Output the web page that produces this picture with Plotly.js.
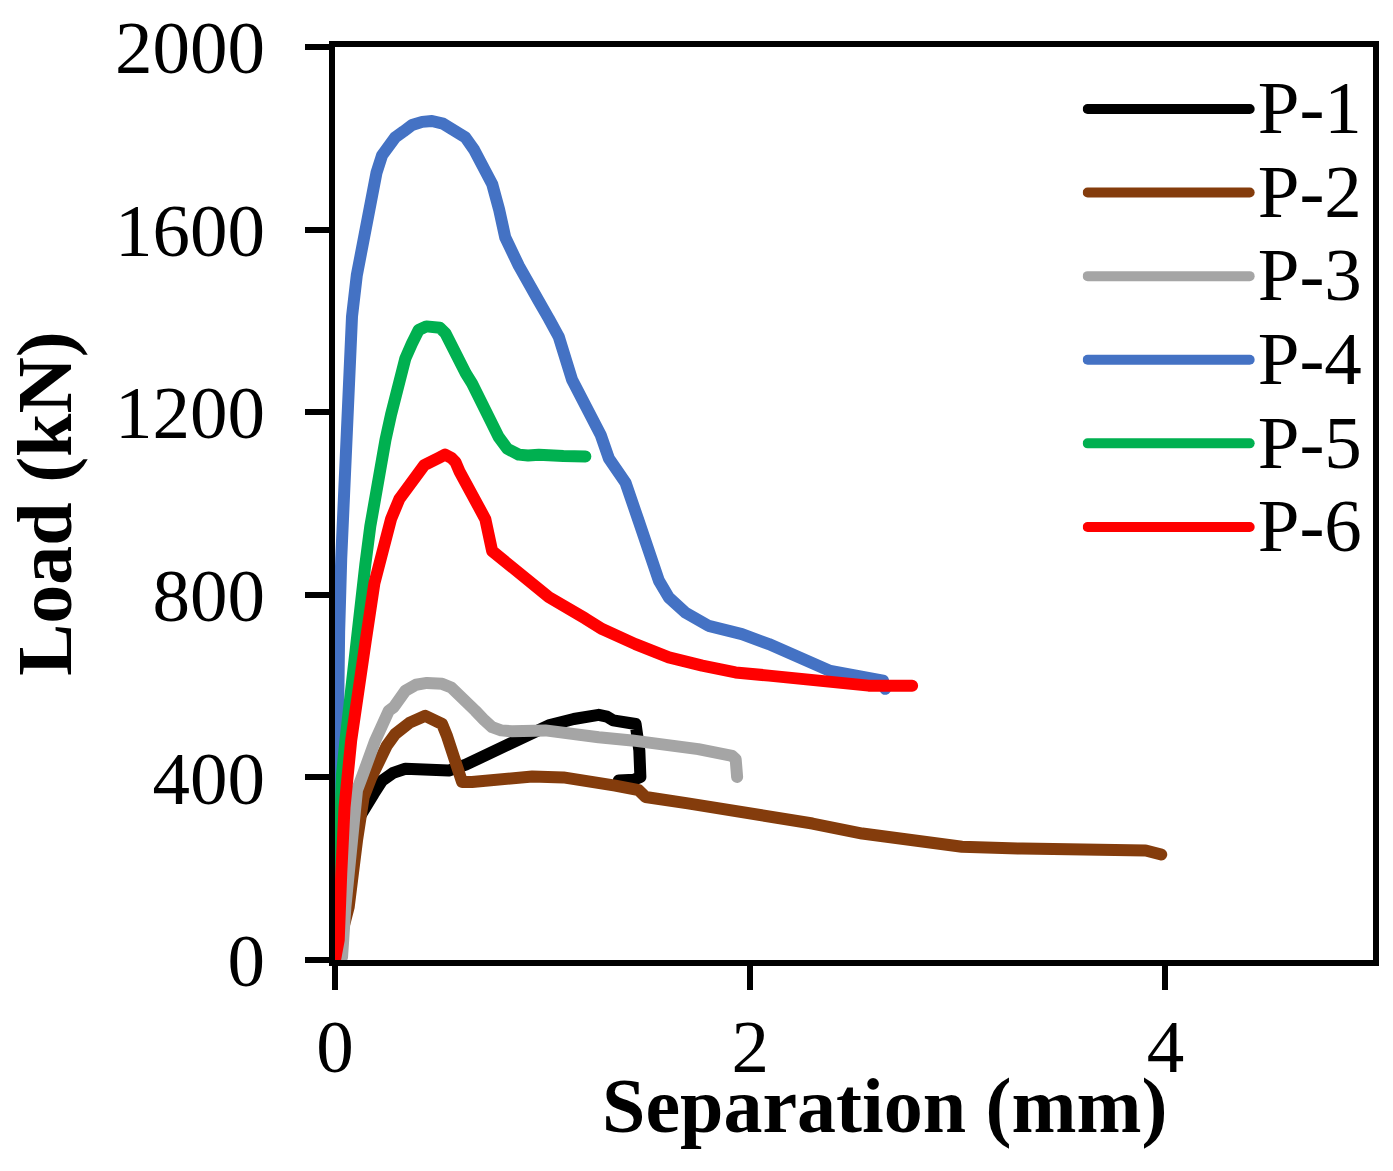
<!DOCTYPE html>
<html>
<head>
<meta charset="utf-8">
<script src="https://cdn.plot.ly/plotly-3.0.1.min.js"></script>
<style>
  body { margin: 0; background: #fff; }
  #myChart { width: 1393px; height: 1171px; }
  /* excel draws its lines with round ends */
  .scatterlayer .js-line, .legendlines path { stroke-linecap: round; stroke-linejoin: round; }
  .legendtext { font-size: 75px !important; }
</style>
</head>
<body>
<div id="myChart"></div>
<script>
// Load - separation curves

const names = ["P-1", "P-2", "P-3", "P-4", "P-5", "P-6"];
const colors = ["#000000", "#843C0C", "#A5A5A5", "#4472C4", "#00B050", "#FF0000"];

const p1_x = [0, 0.02, 0.05, 0.1, 0.146, 0.186, 0.227, 0.28, 0.339, 0.44, 0.548, 0.63, 0.708, 0.79, 0.869, 0.95, 1.03, 1.15, 1.27, 1.31, 1.34, 1.448, 1.463, 1.466, 1.471, 1.44, 1.367];
const p1_y = [0, 110, 220, 300, 339, 364, 393, 410, 419, 415, 415, 428, 444, 463, 481, 498, 514, 528, 537, 533, 525, 517, 490, 459, 401, 395, 393];

const p2_x = [0, 0.03, 0.066, 0.106, 0.138, 0.175, 0.21, 0.25, 0.29, 0.36, 0.435, 0.48, 0.516, 0.54, 0.564, 0.59, 0.612, 0.66, 0.8, 0.95, 1.1, 1.239, 1.35, 1.463, 1.496, 1.7, 1.9, 2.058, 2.3, 2.54, 2.78, 3.02, 3.31, 3.55, 3.76, 3.905, 3.98];
const p2_y = [0, 50, 116, 262, 357, 400, 437, 470, 495, 520, 535, 528, 517, 490, 459, 420, 390, 390, 398, 402, 400, 393, 382, 372, 357, 343, 330, 317, 299, 277, 262, 248, 244, 243, 242, 240, 231];

const p3_x = [0, 0.034, 0.05, 0.074, 0.106, 0.13, 0.17, 0.194, 0.259, 0.283, 0.339, 0.39, 0.443, 0.516, 0.56, 0.596, 0.64, 0.676, 0.72, 0.757, 0.8, 0.853, 1.013, 1.1, 1.27, 1.43, 1.59, 1.75, 1.913, 1.93, 1.937];
const p3_y = [0, 7, 116, 226, 372, 401, 459, 481, 546, 554, 590, 603, 607, 605, 597, 583, 565, 546, 525, 510, 503, 501, 503, 500, 488, 481, 474, 462, 447, 440, 401];

const p4_x = [0, 0.005, 0.012, 0.02, 0.03, 0.04, 0.05, 0.066, 0.082, 0.105, 0.13, 0.155, 0.178, 0.2, 0.227, 0.26, 0.29, 0.33, 0.371, 0.42, 0.467, 0.52, 0.564, 0.6, 0.628, 0.67, 0.708, 0.757, 0.79, 0.82, 0.885, 0.93, 0.982, 1.03, 1.078, 1.142, 1.19, 1.239, 1.28, 1.319, 1.36, 1.4, 1.464, 1.528, 1.56, 1.608, 1.688, 1.8, 1.96, 2.09, 2.25, 2.38, 2.51, 2.64, 2.65];
const p4_y = [0, 300, 550, 720, 880, 1000, 1100, 1270, 1410, 1500, 1567, 1630, 1685, 1725, 1763, 1785, 1802, 1815, 1829, 1836, 1838, 1832, 1821, 1812, 1802, 1775, 1747, 1700, 1645, 1583, 1521, 1480, 1443, 1405, 1365, 1271, 1230, 1193, 1150, 1099, 1070, 1045, 960, 874, 831, 794, 761, 732, 714, 692, 659, 634, 623, 612, 594];

const p5_x = [0, 0.008, 0.018, 0.034, 0.05, 0.066, 0.082, 0.098, 0.12, 0.146, 0.17, 0.194, 0.22, 0.243, 0.27, 0.29, 0.315, 0.339, 0.37, 0.403, 0.44, 0.476, 0.505, 0.532, 0.56, 0.596, 0.63, 0.66, 0.69, 0.724, 0.76, 0.788, 0.83, 0.885, 0.93, 0.982, 1.1, 1.206];
const p5_y = [0, 150, 280, 408, 480, 554, 630, 699, 780, 866, 950, 1021, 1080, 1139, 1195, 1239, 1280, 1318, 1350, 1380, 1388, 1390, 1385, 1373, 1345, 1310, 1285, 1263, 1232, 1201, 1170, 1146, 1120, 1107, 1105, 1107, 1104, 1103];

const p6_x = [0, 0.018, 0.03, 0.046, 0.078, 0.118, 0.148, 0.19, 0.23, 0.27, 0.31, 0.35, 0.43, 0.5, 0.53, 0.56, 0.58, 0.6, 0.628, 0.676, 0.724, 0.757, 0.82, 0.917, 1.03, 1.206, 1.287, 1.447, 1.608, 1.769, 1.929, 2.09, 2.25, 2.41, 2.57, 2.78];
const p6_y = [0, 44, 189, 335, 481, 590, 699, 826, 900, 966, 1010, 1036, 1084, 1100, 1107, 1100, 1091, 1070, 1045, 1013, 966, 896, 873, 834, 795, 748, 725, 692, 663, 645, 630, 623, 616, 608, 601, 601];

const xs = [p1_x, p2_x, p3_x, p4_x, p5_x, p6_x];
const ys = [p1_y, p2_y, p3_y, p4_y, p5_y, p6_y];

const x_ticks = [0, 2, 4];
const y_ticks = [0, 400, 800, 1200, 1600, 2000];

var data = [];
for (let i = 0; i < names.length; i++) {
  data.push({
    x: xs[i],
    y: ys[i],
    name: names[i],
    mode: "lines",
    type: "scatter",
    line: { color: colors[i], width: 12 },
  });
}

var serif = "Liberation Serif, Times New Roman, serif";

var axisStyle = {
  showline: true,
  linecolor: "#000",
  linewidth: 6,
  mirror: true,
  ticks: "outside",
  ticklen: 24,
  tickwidth: 6,
  tickcolor: "#000",
  showgrid: false,
  zeroline: false,
  tickfont: { family: serif, size: 75, color: "#000" },
};

var layout = {
  width: 1393,
  height: 1171,
  margin: { l: 335, r: 20, t: 47, b: 211 },
  paper_bgcolor: "#fff",
  plot_bgcolor: "#fff",
  showlegend: true,
  legend: {
    x: 0.7203,
    y: 0.9834,
    xanchor: "left",
    yanchor: "top",
    bgcolor: "rgba(0,0,0,0)",
    itemwidth: 165,
    font: { family: serif, size: 62, color: "#000" },
  },
  xaxis: Object.assign({}, axisStyle, {
    range: [0, 5],
    tickvals: x_ticks,
    ticktext: x_ticks.map(String),
    ticklabelstandoff: -8,
  }),
  yaxis: Object.assign({}, axisStyle, {
    range: [0, 2000],
    tickvals: y_ticks,
    ticktext: y_ticks.map(String),
    ticklabelstandoff: 25,
    title: {
      text: "<b>Load (kN)</b>",
      font: { family: serif, size: 78, color: "#000" },
      standoff: 20,
    },
  }),
  annotations: [
    {
      text: "<b>Separation (mm)</b>",
      xref: "paper",
      yref: "paper",
      x: 0.529,
      y: -0.11,
      xanchor: "center",
      yanchor: "top",
      showarrow: false,
      font: { family: serif, size: 78, color: "#000" },
    },
  ],
};

Plotly.newPlot("myChart", data, layout, { staticPlot: true }).then(function (gd) {
  // excel legend keys are much longer than plotly's 30px default
  gd.querySelectorAll(".legend .legendlines path").forEach(function (p) {
    p.setAttribute("d", "M5,0h162");
  });
});
</script>
</body>
</html>
